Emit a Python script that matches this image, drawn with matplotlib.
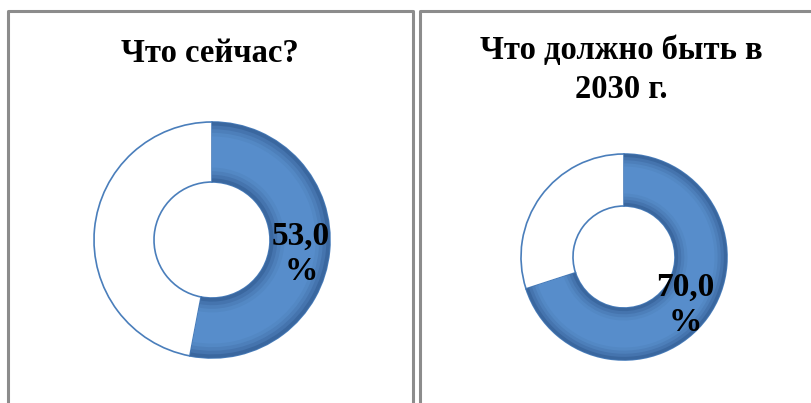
import matplotlib.pyplot as plt
from matplotlib.lines import Line2D

# chart data
titles = ['Что сейчас?', 'Что должно быть в\n2030 г.']
shares = [53.0, 70.0]          # blue part, %
labels = ['53,0\n%', '70,0\n%']

plt.rcParams['font.family'] = ['Liberation Serif', 'DejaVu Serif']

W, H = 812, 403
fig = plt.figure(figsize=(W / 100, H / 100), dpi=100)
ax = fig.add_axes([0, 0, 1, 1])

# layout in pixel coords (y measured from bottom)
centers = [(212, 163), (624, 146)]
radii = [118, 103]
holes = [58, 51]
title_pos = [(210, 350), (621, 333)]
label_pos = [(301, 149), (685, 98)]

shades = ['#3A679F', '#4574AE', '#4D7FBA', '#5388C4', '#578DCB']

for i in range(2):
    vals = [shares[i], 100 - shares[i]]
    r, h = radii[i], holes[i]
    w = r - h
    # white remainder with blue outline
    ax.pie(vals, center=centers[i], radius=r, startangle=90, counterclock=False,
           colors=['none', 'white'],
           wedgeprops=dict(width=w, edgecolor='#4A7EBB', linewidth=1.2))
    # blue part with a soft bevel made of nested rings
    for k, c in enumerate(shades):
        inset = k * w * 0.06
        ax.pie(vals, center=centers[i], radius=r - inset, startangle=90,
               counterclock=False, colors=[c, 'none'],
               wedgeprops=dict(width=w - 2 * inset, linewidth=0))
    ax.text(*title_pos[i], titles[i], ha='center', va='center',
            fontsize=23.5, fontweight='bold', linespacing=1.3)
    ax.text(*label_pos[i], labels[i], ha='center', va='center',
            fontsize=24, fontweight='bold', linespacing=1.2)

ax.set_xlim(0, W)
ax.set_ylim(0, H)
ax.set_aspect('auto')
ax.axis('off')

# panel frames
gray = '#8C8C8C'
for x0, x1 in [(8, 413), (420, 830)]:
    ax.add_line(Line2D([x0, x0, x1, x1], [-5, H - 11, H - 11, -5],
                       color=gray, linewidth=2.2, clip_on=False))

fig.savefig('out.png', dpi=100)
